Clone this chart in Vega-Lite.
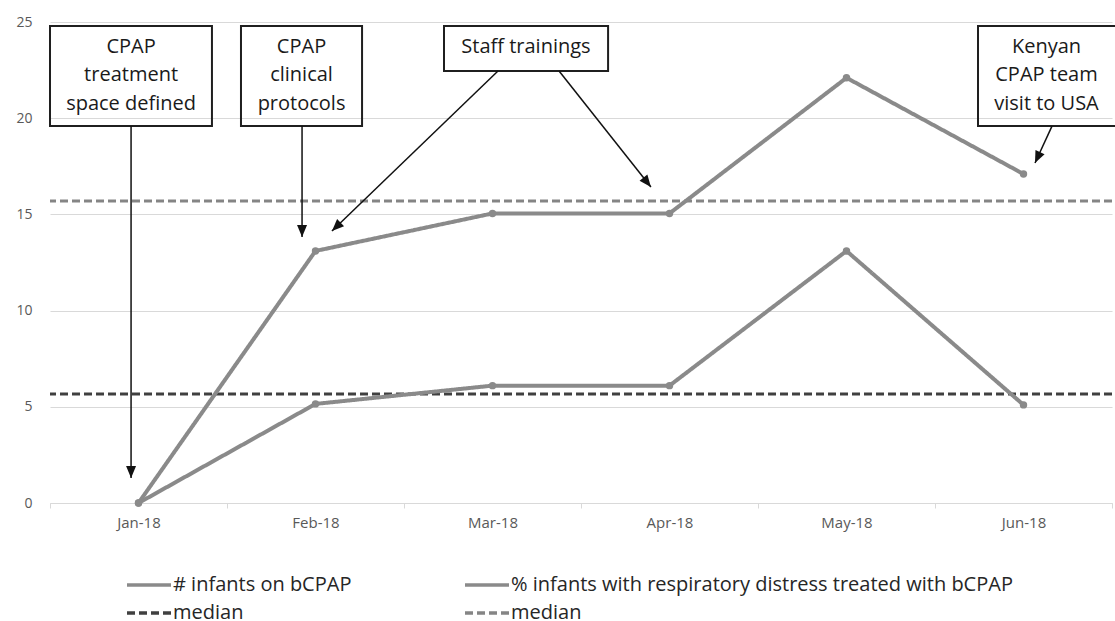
{
  "$schema": "https://vega.github.io/schema/vega-lite/v6.json",
  "width": 1062,
  "height": 481,
  "autosize": {"type": "none"},
  "padding": {"left": 50, "top": 22, "right": 3, "bottom": 118},
  "background": "white",
  "config": {"view": {"stroke": null}, "font": "Open Sans"},
  "datasets": {
    "series": [
      {"month": "Jan-18", "series": "# infants on bCPAP", "value": 0},
      {"month": "Feb-18", "series": "# infants on bCPAP", "value": 5.15},
      {"month": "Mar-18", "series": "# infants on bCPAP", "value": 6.1},
      {"month": "Apr-18", "series": "# infants on bCPAP", "value": 6.1},
      {"month": "May-18", "series": "# infants on bCPAP", "value": 13.1},
      {"month": "Jun-18", "series": "# infants on bCPAP", "value": 5.1},
      {"month": "Jan-18", "series": "% infants with respiratory distress treated with bCPAP", "value": 0},
      {"month": "Feb-18", "series": "% infants with respiratory distress treated with bCPAP", "value": 13.1},
      {"month": "Mar-18", "series": "% infants with respiratory distress treated with bCPAP", "value": 15.05},
      {"month": "Apr-18", "series": "% infants with respiratory distress treated with bCPAP", "value": 15.05},
      {"month": "May-18", "series": "% infants with respiratory distress treated with bCPAP", "value": 22.1},
      {"month": "Jun-18", "series": "% infants with respiratory distress treated with bCPAP", "value": 17.1}
    ],
    "medians": [
      {"series": "median (#)", "value": 5.67},
      {"series": "median (%)", "value": 15.7}
    ],
    "boxes": [
      {"ax": -0.5, "ax2": 0.415, "ay": 24.79, "ay2": 19.59},
      {"ax": 0.579, "ax2": 1.263, "ay": 24.79, "ay2": 19.59},
      {"ax": 1.726, "ax2": 2.653, "ay": 24.79, "ay2": 22.45},
      {"ax": 4.743, "ax2": 5.56, "ay": 24.79, "ay2": 19.59}
    ],
    "labels": [
      {"ax": -0.042, "ay": 23.7, "text": "CPAP"},
      {"ax": -0.042, "ay": 22.22, "text": "treatment"},
      {"ax": -0.042, "ay": 20.74, "text": "space defined"},
      {"ax": 0.921, "ay": 23.7, "text": "CPAP"},
      {"ax": 0.921, "ay": 22.22, "text": "clinical"},
      {"ax": 0.921, "ay": 20.74, "text": "protocols"},
      {"ax": 2.189, "ay": 23.7, "text": "Staff trainings"},
      {"ax": 5.13, "ay": 23.7, "text": "Kenyan"},
      {"ax": 5.13, "ay": 22.22, "text": "CPAP team"},
      {"ax": 5.13, "ay": 20.74, "text": "visit to USA"}
    ],
    "arrows": [
      {"ax": -0.042, "ay": 19.59, "ax2": -0.042, "ay2": 1.3, "angle": 180},
      {"ax": 0.924, "ay": 19.59, "ax2": 0.924, "ay2": 13.83, "angle": 180},
      {"ax": 2.031, "ay": 22.45, "ax2": 1.093, "ay2": 14.14, "angle": 226},
      {"ax": 2.376, "ay": 22.45, "ax2": 2.895, "ay2": 16.42, "angle": 141.6},
      {"ax": 5.161, "ay": 19.59, "ax2": 5.065, "ay2": 17.67, "angle": 204.7}
    ]
  },
  "layer": [
    {
      "layer": [
        {
          "data": {"name": "medians"},
          "mark": {"type": "rule", "strokeWidth": 3},
          "encoding": {
            "y": {
              "field": "value", "type": "quantitative", "scale": {"domain": [0, 25], "nice": false},
              "axis": {
                "title": null, "values": [0, 5, 10, 15, 20, 25], "grid": true, "gridColor": "#d9d9d9",
                "domain": false, "ticks": false, "labelPadding": 18, "labelFont": "Open Sans",
                "labelFontSize": 14, "labelColor": "#595959"
              }
            },
            "color": {
              "field": "series", "type": "nominal",
              "scale": {
                "domain": ["# infants on bCPAP", "% infants with respiratory distress treated with bCPAP", "median (#)", "median (%)"],
                "range": ["#8a8a8a", "#8a8a8a", "#404040", "#858585"]
              },
              "legend": {
                "title": null, "orient": "none", "legendX": 87, "legendY": 551, "columns": 2, "direction": "horizontal",
                "symbolType": "M-2.2,0L2.2,0", "symbolSize": 400, "symbolStrokeWidth": 3.5, "symbolFillColor": "transparent",
                "labelFont": "Open Sans", "labelFontSize": 20, "labelColor": "#262626", "labelLimit": 0,
                "rowPadding": 6, "columnPadding": 106, "labelOffset": 12,
                "labelExpr": "indexof(datum.label, 'median') === 0 ? 'median' : datum.label"
              }
            },
            "strokeDash": {
              "field": "series", "type": "nominal",
              "scale": {
                "domain": ["# infants on bCPAP", "% infants with respiratory distress treated with bCPAP", "median (#)", "median (%)"],
                "range": [[1, 0], [1, 0], [8, 4], [8, 4]]
              },
              "legend": {
                "title": null, "orient": "none", "legendX": 87, "legendY": 551, "columns": 2, "direction": "horizontal",
                "symbolType": "M-2.2,0L2.2,0", "symbolSize": 400, "symbolStrokeWidth": 3.5, "symbolFillColor": "transparent",
                "labelFont": "Open Sans", "labelFontSize": 20, "labelColor": "#262626", "labelLimit": 0,
                "rowPadding": 6, "columnPadding": 106, "labelOffset": 12,
                "labelExpr": "indexof(datum.label, 'median') === 0 ? 'median' : datum.label"
              }
            }
          }
        },
        {
          "data": {"name": "series"},
          "mark": {"type": "line", "strokeWidth": 4},
          "encoding": {
            "x": {
              "field": "month", "type": "ordinal", "sort": null, "bandPosition": 0.5,
              "scale": {"type": "band", "paddingInner": 0, "paddingOuter": 0},
              "axis": {
                "title": null, "tickBand": "extent", "ticks": true, "tickSize": 5, "tickColor": "#d9d9d9",
                "domainColor": "#d9d9d9", "grid": false, "labelAngle": 0, "labelFont": "Open Sans",
                "labelFontSize": 15, "labelColor": "#595959", "labelPadding": 7
              }
            },
            "y": {
              "field": "value", "type": "quantitative", "scale": {"domain": [0, 25], "nice": false},
              "axis": {
                "title": null, "values": [0, 5, 10, 15, 20, 25], "grid": true, "gridColor": "#d9d9d9",
                "domain": false, "ticks": false, "labelPadding": 18, "labelFont": "Open Sans",
                "labelFontSize": 14, "labelColor": "#595959"
              }
            },
            "color": {"field": "series", "type": "nominal"},
            "strokeDash": {"field": "series", "type": "nominal"}
          }
        },
        {
          "data": {"name": "series"},
          "mark": {"type": "point", "filled": true, "opacity": 1, "color": "#8a8a8a", "size": 55},
          "encoding": {
            "x": {"field": "month", "type": "ordinal", "sort": null, "bandPosition": 0.5},
            "y": {"field": "value", "type": "quantitative"}
          }
        }
      ]
    },
    {
      "layer": [
        {
          "data": {"name": "boxes"},
          "mark": {"type": "rect", "fill": "transparent", "stroke": "#1f1f1f", "strokeWidth": 2},
          "encoding": {
            "x": {"field": "ax", "type": "quantitative", "scale": {"domain": [-0.5, 5.5], "nice": false, "zero": false}, "axis": null},
            "x2": {"field": "ax2"},
            "y": {"field": "ay", "type": "quantitative"},
            "y2": {"field": "ay2"}
          }
        },
        {
          "data": {"name": "labels"},
          "mark": {"type": "text", "font": "Open Sans", "fontSize": 20, "color": "#1a1a1a", "align": "center", "baseline": "middle"},
          "encoding": {
            "x": {"field": "ax", "type": "quantitative", "axis": null},
            "y": {"field": "ay", "type": "quantitative"},
            "text": {"field": "text", "type": "nominal"}
          }
        },
        {
          "data": {"name": "arrows"},
          "mark": {"type": "rule", "color": "#111111", "strokeWidth": 1.5},
          "encoding": {
            "x": {"field": "ax", "type": "quantitative", "axis": null},
            "y": {"field": "ay", "type": "quantitative"},
            "x2": {"field": "ax2"},
            "y2": {"field": "ay2"}
          }
        },
        {
          "data": {"name": "arrows"},
          "mark": {"type": "point", "shape": "M0,0L-1.25,3L1.25,3Z", "filled": true, "opacity": 1, "color": "#111111", "size": 64},
          "encoding": {
            "x": {"field": "ax2", "type": "quantitative", "axis": null},
            "y": {"field": "ay2", "type": "quantitative"},
            "angle": {"field": "angle", "type": "quantitative", "scale": null}
          }
        }
      ]
    }
  ],
  "resolve": {"scale": {"x": "independent"}}
}
